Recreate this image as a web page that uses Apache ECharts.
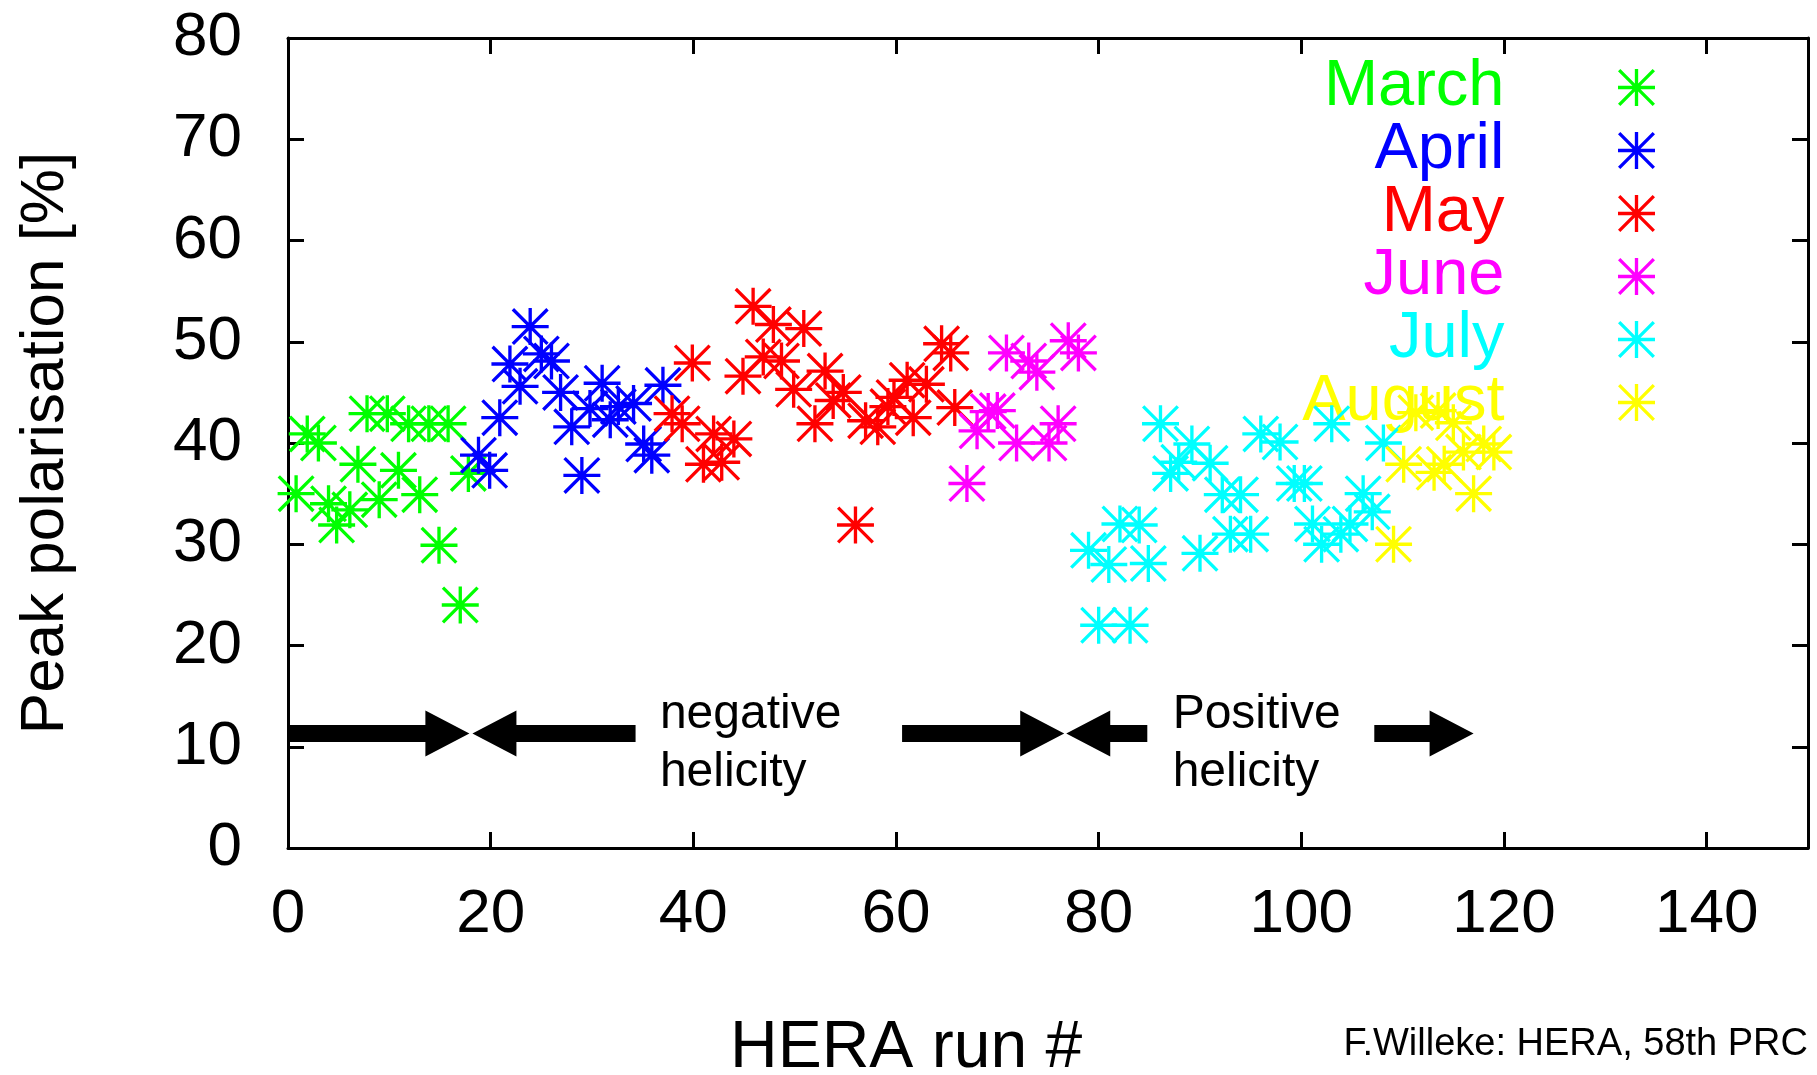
<!DOCTYPE html>
<html>
<head>
<meta charset="utf-8">
<script src="https://cdn.jsdelivr.net/npm/echarts@6/dist/echarts.min.js"></script>
<style>
  html, body { margin: 0; padding: 0; background: #fff; }
  #chart { width: 1817px; height: 1075px; }
</style>
</head>
<body>
<div id="chart"></div>
<script>
const FONT = '"Liberation Sans", Arial, sans-serif';

const months = ["March", "April", "May", "June", "July", "August"];
const monthColors = ["#00ff00", "#0000ff", "#ff0000", "#ff00ff", "#00ffff", "#ffff00"];

// [HERA run #, peak polarisation %]
const march = [
  [0.8, 35.0], [1.9, 40.9], [3.0, 40.0], [4.0, 34.0], [4.8, 31.9], [6.1, 33.4],
  [6.9, 37.9], [7.8, 42.9], [9.8, 42.9], [9.0, 34.4], [10.9, 37.3], [11.9, 41.9],
  [13.9, 41.9], [15.8, 41.9], [13.0, 34.9], [14.9, 29.9], [17.0, 24.0], [17.8, 37.0],
];
const april = [
  [18.8, 38.8], [19.9, 37.3], [20.9, 42.5], [21.9, 47.8], [22.9, 45.6], [23.9, 51.5],
  [25.0, 48.8], [26.0, 48.1], [26.9, 45.0], [28.0, 41.6], [29.0, 36.8], [29.8, 43.4],
  [31.0, 45.9], [31.8, 42.3], [32.6, 43.6], [34.1, 43.9], [35.1, 39.9], [35.9, 38.8],
  [37.0, 45.7],
];
const may = [
  [37.9, 42.9], [38.9, 41.9], [39.9, 47.9], [41.0, 37.9], [42.0, 40.9], [42.8, 38.1],
  [44.0, 40.4], [44.9, 46.6], [45.9, 53.5], [46.9, 48.5], [47.9, 51.7], [48.7, 48.1],
  [49.9, 45.3], [50.9, 51.3], [52.0, 41.9], [53.0, 47.1], [53.8, 44.2], [54.8, 45.0],
  [56.0, 31.9], [57.0, 42.2], [58.2, 41.6], [59.2, 43.6], [59.8, 44.5], [61.1, 46.2],
  [61.7, 42.5], [63.0, 45.8], [64.5, 49.8], [65.4, 48.9], [65.8, 43.5],
];
const june = [
  [67.0, 36.0], [68.0, 41.2], [69.1, 43.1], [70.0, 43.2], [70.9, 48.9], [71.9, 40.0],
  [73.1, 48.1], [73.9, 47.0], [75.1, 40.0], [76.0, 41.9], [77.0, 50.1], [78.0, 48.9],
];
const july = [
  [79.0, 29.4], [80.0, 22.0], [81.0, 28.0], [82.1, 32.0], [83.1, 22.0], [84.0, 31.9],
  [84.9, 28.1], [86.1, 41.9], [87.1, 37.0], [87.9, 38.1], [89.2, 39.9], [90.0, 29.1],
  [91.0, 38.0], [92.2, 34.9], [93.0, 31.0], [94.0, 34.9], [95.0, 31.0], [96.0, 40.9],
  [97.9, 40.1], [99.3, 36.0], [100.3, 36.0], [101.1, 32.0], [102.0, 30.0], [103.0, 41.9],
  [103.9, 31.0], [104.8, 32.0], [106.1, 35.0], [107.0, 33.2], [108.1, 40.0],
];
const august = [
  [109.1, 30.0], [110.1, 37.9], [111.3, 43.0], [113.1, 37.1], [113.5, 43.2], [114.1, 37.9],
  [115.0, 42.0], [116.0, 39.1], [117.0, 35.0], [118.0, 39.9], [119.0, 39.1],
];
const monthData = [march, april, may, june, july, august];

// helicity arrows: tail -> tip along the run axis, at one polarisation level
const arrowTail = [0, 34.3, 60.6, 84.8, 107.2];
const arrowTip = [17.9, 18.2, 76.6, 76.8, 117.0];
const arrowLevel = 11.3;
const helicityLabels = ["negative\nhelicity", "Positive\nhelicity"];
const helicityLabelX = [36.7, 87.3];
const helicityLabelLevel = 10.27;

const xRange = [0, 150];
const xStep = 20;
const yRange = [0, 80];
const yStep = 10;

// gnuplot style asterisk: + and x, filled bars so the stroke never scales
const STAR = "path://M0 45.5H100V54.5H0Z M45.5 0H54.5V100H45.5Z M0 6.36L6.36 0L100 93.64L93.64 100Z M100 6.36L6.36 100L0 93.64L93.64 0Z";

const chart = echarts.init(document.getElementById("chart"), null, { renderer: "canvas" });

const frameLine = { show: true, onZero: false, lineStyle: { color: "#000", width: 3 } };
const frameTick = { show: true, inside: true, length: 16, lineStyle: { color: "#000", width: 3 } };

function renderArrow(params, api) {
  const a = api.coord([api.value(0), api.value(2)]);
  const b = api.coord([api.value(1), api.value(2)]);
  const dir = b[0] > a[0] ? 1 : -1;
  const head = 44;
  const half = 23;
  const shaft = 8.5;
  const base = b[0] - dir * head;
  const y = a[1];
  return {
    type: "polygon",
    shape: {
      points: [
        [a[0], y - shaft], [base, y - shaft], [base, y - half], [b[0], y],
        [base, y + half], [base, y + shaft], [a[0], y + shaft],
      ],
    },
    style: { fill: "#000" },
  };
}

function renderHelicityLabel(params, api) {
  const p = api.coord([api.value(0), api.value(1)]);
  return {
    type: "text",
    x: p[0],
    y: p[1],
    style: {
      text: helicityLabels[params.dataIndex],
      font: `48px ${FONT}`,
      fill: "#000",
      align: "left",
      verticalAlign: "middle",
      lineHeight: 58,
    },
  };
}

const option = {
  animation: false,
  backgroundColor: "#fff",
  grid: { left: 288, top: 38, right: 9, bottom: 227, containLabel: false, outerBoundsMode: "none" },
  xAxis: [
    {
      type: "value",
      position: "bottom",
      min: xRange[0],
      max: xRange[1],
      interval: xStep,
      axisLine: frameLine,
      axisTick: frameTick,
      splitLine: { show: false },
      axisLabel: { color: "#000", fontSize: 62, fontFamily: FONT, margin: 36, showMaxLabel: false },
    },
    {
      type: "value",
      position: "top",
      min: xRange[0],
      max: xRange[1],
      interval: xStep,
      axisLine: frameLine,
      axisTick: frameTick,
      splitLine: { show: false },
      axisLabel: { show: false },
    },
  ],
  yAxis: [
    {
      type: "value",
      position: "left",
      min: yRange[0],
      max: yRange[1],
      interval: yStep,
      axisLine: frameLine,
      axisTick: frameTick,
      splitLine: { show: false },
      axisLabel: { color: "#000", fontSize: 62, fontFamily: FONT, margin: 46 },
      name: "Peak polarisation [%]",
      nameLocation: "middle",
      nameRotate: 90,
      nameGap: 211,
      nameTextStyle: { color: "#000", fontSize: 62, fontFamily: FONT },
    },
    {
      type: "value",
      position: "right",
      min: yRange[0],
      max: yRange[1],
      interval: yStep,
      axisLine: frameLine,
      axisTick: frameTick,
      splitLine: { show: false },
      axisLabel: { show: false },
    },
  ],
  legend: {
    orient: "vertical",
    align: "right",
    right: 157,
    top: 50,
    itemWidth: 254,
    itemHeight: 37,
    itemGap: -2,
    selectedMode: false,
    textStyle: { fontSize: 65, fontFamily: FONT, lineHeight: 62 },
    data: months.map((m, i) => ({ name: m, icon: STAR, textStyle: { color: monthColors[i] } })),
  },
  graphic: [
    {
      type: "text",
      left: 730,
      top: 1016,
      style: { text: "HERA run #", font: `66px "Comic Sans MS", ${FONT}`, fill: "#000" },
    },
    {
      type: "text",
      right: 9,
      top: 1026,
      style: { text: "F.Willeke: HERA, 58th PRC", font: `38px ${FONT}`, fill: "#000" },
    },
  ],
  series: [
    ...months.map((m, i) => ({
      name: m,
      type: "scatter",
      symbol: STAR,
      symbolSize: 37,
      itemStyle: { color: monthColors[i], opacity: 1 },
      emphasis: { disabled: true },
      data: monthData[i],
      z: 2 + i,
    })),
    {
      type: "custom",
      name: "arrows",
      renderItem: renderArrow,
      data: arrowTail.map((t, i) => [t, arrowTip[i], arrowLevel]),
      encode: { x: [0, 1], y: 2 },
      silent: true,
      z: 10,
    },
    {
      type: "custom",
      name: "helicity",
      renderItem: renderHelicityLabel,
      data: helicityLabelX.map((x) => [x, helicityLabelLevel]),
      encode: { x: 0, y: 1 },
      silent: true,
      z: 10,
    },
  ],
};

chart.setOption(option);
window.addEventListener("resize", () => chart.resize());
</script>
</body>
</html>
